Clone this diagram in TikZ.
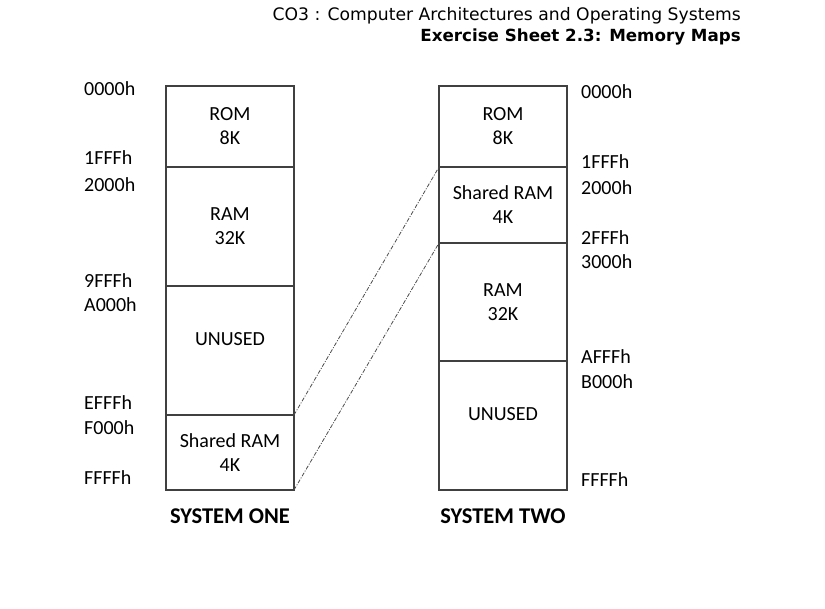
\documentclass[tikz,border=0pt]{standalone}
\usepackage{fontspec}
\setmainfont{Carlito}
\newfontfamily\headfont{DejaVu Sans}
\usetikzlibrary{positioning}

\begin{document}
\begin{tikzpicture}[x=1pt, y=-1pt, node distance=0pt,
  region/.style={draw=black!75, line width=1.3pt, minimum width=128pt, outer sep=0pt,
    align=center, font=\fontsize{20}{24}\selectfont},
  addr/.style={anchor=west, inner sep=0pt, font=\fontsize{20}{24}\selectfont},
  caption/.style={font=\fontsize{22.5}{26}\selectfont\bfseries},
  link/.style={draw=black!70, line width=0.8pt, dash pattern=on 4pt off 1.5pt on 1pt off 1.5pt}]
\useasboundingbox (0,0) rectangle (825,609);
% header
\node[anchor=east, inner sep=0pt, font=\headfont\fontsize{17.2}{20}\selectfont] (title) at (741,16) {CO3 : Computer Architectures and Operating Systems};
\node[anchor=east, inner sep=0pt, font=\headfont\fontsize{16.7}{20}\selectfont\bfseries] (sheet) at (741,37) {Exercise Sheet 2.3: Memory Maps};
% system one
\node[region, minimum height=81pt, anchor=north] (rom1) at (230,86) {ROM\\8K};
\node[region, minimum height=119pt] (ram1) [below=of rom1] {RAM\\32K};
\node[region, minimum height=129pt, text depth=22pt] (unused1) [below=of ram1] {UNUSED};
\node[region, minimum height=75pt] (shared1) [below=of unused1] {Shared RAM\\4K};
\node[caption] (one) [below=15pt of shared1] {SYSTEM ONE};
% system two
\node[region, minimum height=81pt, anchor=north] (rom2) at (503,86) {ROM\\8K};
\node[region, minimum height=76pt] (shared2) [below=of rom2] {Shared RAM\\4K};
\node[region, minimum height=118pt] (ram2) [below=of shared2] {RAM\\32K};
\node[region, minimum height=129pt, text depth=22pt] (unused2) [below=of ram2] {UNUSED};
\node[caption] (two) [below=15pt of unused2] {SYSTEM TWO};
% addresses, system one
\node[addr] (a1) at (84,89) {0000h};
\node[addr] (a2) at (84,158) {1FFFh};
\node[addr] (a3) at (84,185) {2000h};
\node[addr] (a4) at (84,281) {9FFFh};
\node[addr] (a5) at (84,305) {A000h};
\node[addr] (a6) at (84,403) {EFFFh};
\node[addr] (a7) at (84,428) {F000h};
\node[addr] (a8) at (84,478) {FFFFh};
% addresses, system two
\node[addr] (b1) at (581,92) {0000h};
\node[addr] (b2) at (581,162) {1FFFh};
\node[addr] (b3) at (581,188) {2000h};
\node[addr] (b4) at (581,238) {2FFFh};
\node[addr] (b5) at (581,262) {3000h};
\node[addr] (b6) at (581,357) {AFFFh};
\node[addr] (b7) at (581,382) {B000h};
\node[addr] (b8) at (581,480) {FFFFh};
% shared block mapping
\draw[link] (shared1.north east) -- (shared2.north west);
\draw[link] (shared1.south east) -- (shared2.south west);
\end{tikzpicture}
\end{document}
